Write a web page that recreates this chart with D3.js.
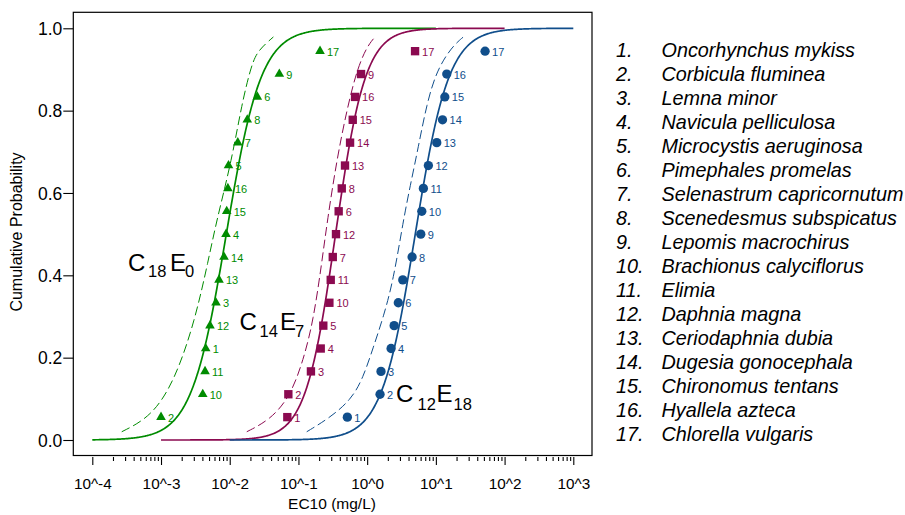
<!DOCTYPE html>
<html>
<head>
<meta charset="utf-8">
<script src="https://cdn.jsdelivr.net/npm/d3@7"></script>
<style>
  html, body { margin: 0; padding: 0; background: #fff; }
  svg { display: block; font-family: "Liberation Sans", Arial, Helvetica, sans-serif; }
</style>
</head>
<body>
<svg id="chart" width="905" height="515"></svg>
<script>
// ---------------- DATA ----------------
const speciesNumbers = [1,2,3,4,5,6,7,8,9,10,11,12,13,14,15,16,17];
const speciesNames = [
  "Oncorhynchus mykiss", "Corbicula fluminea", "Lemna minor", "Navicula pelliculosa",
  "Microcystis aeruginosa", "Pimephales promelas", "Selenastrum capricornutum",
  "Scenedesmus subspicatus", "Lepomis macrochirus", "Brachionus calyciflorus", "Elimia",
  "Daphnia magna", "Ceriodaphnia dubia", "Dugesia gonocephala", "Chironomus tentans",
  "Hyallela azteca", "Chlorella vulgaris"
];
const seriesNames = ["C18E0", "C14E7", "C12E18"];

// EC10 (mg/L) per species (index = species number - 1)
const ec10_C18E0 = [0.00447, 0.00100, 0.00631, 0.00883, 0.00960, 0.0252, 0.0131, 0.0180, 0.0527,
                    0.00405, 0.00437, 0.00516, 0.00698, 0.00826, 0.00904, 0.00940, 0.206];
const ec10_C14E7 = [0.0689, 0.0713, 0.152, 0.211, 0.230, 0.385, 0.316, 0.427, 0.815,
                    0.282, 0.295, 0.352, 0.476, 0.564, 0.617, 0.667, 4.98];
const ec10_C12E18 = [0.515, 1.54, 1.59, 2.23, 2.47, 2.84, 3.30, 4.51, 6.03,
                     6.24, 6.58, 7.78, 10.3, 12.5, 13.5, 14.4, 52.0];

// fitted log-logistic SSD: median (log10 mg/L), scale (log10 units), plotted range (log10 mg/L)
const fitMedianLog = [-2.05, -0.46, 0.70];
const fitScaleLog = [0.254, 0.218, 0.245];
const fitRangeLog = [[-4, 1], [-3, 2], [-2, 3]];

// dashed (lower bound) curves: [EC10 mg/L, cumulative probability]
const lower_C18E0 = [[0.000268,0.020],[0.000733,0.057],[0.00160,0.146],[0.00313,0.291],[0.00489,0.437],
                     [0.00647,0.534],[0.0107,0.680],[0.0150,0.817],[0.0209,0.914],[0.0261,0.947],[0.0432,0.979]];
const lower_C14E7 = [[0.0177,0.020],[0.0386,0.049],[0.0755,0.105],[0.118,0.194],[0.165,0.291],[0.218,0.429],
                     [0.264,0.534],[0.361,0.680],[0.505,0.801],[0.706,0.898],[0.986,0.955],[1.30,0.979]];
const lower_C12E18 = [[0.132,0.020],[0.280,0.053],[0.580,0.097],[0.870,0.150],[1.233,0.226],[1.726,0.299],
                      [2.404,0.388],[3.365,0.534],[4.207,0.615],[5.559,0.712],[7.379,0.817],[10.30,0.898],[17.06,0.955],[25.12,0.979]];

const xTickValues = [1e-4, 1e-3, 1e-2, 1e-1, 1e0, 1e1, 1e2, 1e3];
const xTickLabels = ["10^-4", "10^-3", "10^-2", "10^-1", "10^0", "10^1", "10^2", "10^3"];
const yTickValues = [0, 0.2, 0.4, 0.6, 0.8, 1.0];

const colors = ["#008B00", "#8B0A50", "#104E8B"];
const symbols = [d3.symbolTriangle, d3.symbolSquare, d3.symbolCircle];
const symbolSizes = [40, 70, 68];

// ---------------- CHART ----------------
const svg = d3.select("#chart");
const x = d3.scaleLog().domain([1e-4, 1e3]).range([92.3, 573.3]);
const y = d3.scaleLinear().domain([0, 1]).range([440, 28.3]);

// frame
svg.append("rect").attr("x", 73.3).attr("y", 12.3).attr("width", 518.7).attr("height", 443.2)
  .attr("fill", "none").attr("stroke", "#000").attr("stroke-width", 1.2);

// y axis
const yAxis = svg.append("g").attr("transform", "translate(73.3,0)")
  .call(d3.axisLeft(y).tickValues(yTickValues).tickFormat(d3.format(".1f")).tickSize(10).tickPadding(1));
yAxis.select(".domain").remove();
yAxis.selectAll("line").attr("stroke", "#000").attr("stroke-width", 1.1);
yAxis.selectAll("text").attr("font-size", 17.5).attr("fill", "#000")
  .attr("font-family", "Liberation Sans, Arial, sans-serif").attr("dy", "0.36em");

// x axis minor ticks
const minorTicks = [];
for (let e = -4; e < 3; e++) for (let k = 2; k <= 9; k++) minorTicks.push(k * Math.pow(10, e));
const xMinor = svg.append("g").attr("transform", "translate(0,457)")
  .call(d3.axisBottom(x).tickValues(minorTicks).tickSize(4).tickFormat(""));
xMinor.select(".domain").remove();
xMinor.selectAll("line").attr("stroke", "#000").attr("stroke-width", 1.1);

// x axis major ticks
const xAxis = svg.append("g").attr("transform", "translate(0,457)")
  .call(d3.axisBottom(x).tickValues(xTickValues).tickSize(8).tickPadding(13)
    .tickFormat((d, i) => xTickLabels[i]));
xAxis.select(".domain").remove();
xAxis.selectAll("line").attr("stroke", "#000").attr("stroke-width", 1.1);
xAxis.selectAll("text").attr("font-size", 15.3).attr("fill", "#000")
  .attr("font-family", "Liberation Sans, Arial, sans-serif");

// axis titles
svg.append("text").attr("x", 332).attr("y", 509).attr("text-anchor", "middle")
  .attr("font-size", 15.5).text("EC10 (mg/L)");
svg.append("text").attr("transform", "translate(22,232) rotate(-90)").attr("text-anchor", "middle")
  .attr("font-size", 16).text("Cumulative Probability");

// curves
const line = d3.line().x(d => x(d[0])).y(d => y(d[1]));
const lowerSets = [lower_C18E0, lower_C14E7, lower_C12E18];

lowerSets.forEach((pts, i) => {
  svg.append("path").datum(pts)
    .attr("d", line.curve(d3.curveBasis))
    .attr("fill", "none").attr("stroke", colors[i]).attr("stroke-width", 1)
    .attr("stroke-dasharray", "9,4");
});

seriesNames.forEach((s, i) => {
  const [lo, hi] = fitRangeLog[i];
  const pts = d3.range(lo, hi + 1e-9, 0.01).map(L => [Math.pow(10, L),
    1 / (1 + Math.exp(-(L - fitMedianLog[i]) / fitScaleLog[i]))]);
  svg.append("path").datum(pts)
    .attr("d", line.curve(d3.curveLinear))
    .attr("fill", "none").attr("stroke", colors[i]).attr("stroke-width", 1.7);
});

// points
const ecSets = [ec10_C18E0, ec10_C14E7, ec10_C12E18];
ecSets.forEach((vals, i) => {
  const n = vals.length;
  const ranked = speciesNumbers.map((num, k) => ({ num, v: vals[k] }))
    .sort((a, b) => a.v - b.v)
    .map((d, r) => ({ ...d, p: (r + 1) / (n + 1) }));
  const g = svg.append("g");
  g.selectAll("path.pt").data(ranked).join("path")
    .attr("transform", d => `translate(${x(d.v)},${y(d.p)})`)
    .attr("d", d3.symbol().type(symbols[i]).size(symbolSizes[i]))
    .attr("fill", colors[i]);
  g.selectAll("text").data(ranked).join("text")
    .attr("x", d => x(d.v) + 7).attr("y", d => y(d.p) + 4.5)
    .attr("font-size", 11).attr("fill", colors[i]).text(d => d.num);
});

// series annotations
function annot(parts) {
  const t = svg.append("text").attr("fill", "#000");
  parts.forEach(p => t.append("tspan").attr("x", p[1]).attr("y", p[2])
    .attr("font-size", p[3]).text(p[0]));
}
annot([["C", 128, 271, 24], ["18", 148, 276.5, 16.5], ["E", 170, 271, 24], ["0", 185, 276.5, 16.5]]);
annot([["C", 239.5, 330, 24], ["14", 259.5, 337, 16.5], ["E", 280, 330, 24], ["7", 295, 337, 16.5]]);
annot([["C", 396, 401.5, 24], ["12", 417.5, 410, 16.5], ["E", 436.5, 401.5, 24], ["18", 453.5, 410, 16.5]]);

// legend
const leg = svg.append("g").attr("font-style", "italic").attr("font-size", 19.8).attr("fill", "#000");
speciesNames.forEach((name, k) => {
  const yy = 57 + 24 * k;
  leg.append("text").attr("x", 616).attr("y", yy).text(speciesNumbers[k] + ".");
  leg.append("text").attr("x", 661.5).attr("y", yy).text(name);
});
</script>
</body>
</html>
